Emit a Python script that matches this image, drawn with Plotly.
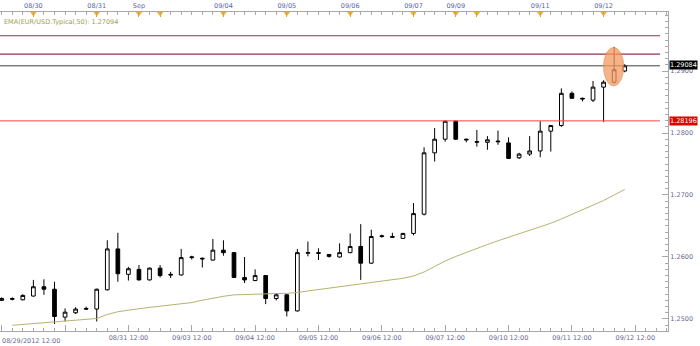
import plotly.graph_objects as go

# ---------------- data ----------------
idx = list(range(60))
opens = [1.2530, 1.2533, 1.2531, 1.2537, 1.2552, 1.2548, 1.2503, 1.2510, 1.2517, 1.2516,
         1.2547, 1.2613, 1.2572, 1.2580, 1.2563, 1.2582, 1.2572, 1.2571, 1.2599, 1.2598,
         1.2595, 1.2611, 1.2607, 1.2567, 1.2562, 1.2570, 1.2533, 1.2539, 1.2513, 1.2606,
         1.2607, 1.2604, 1.2600, 1.2607, 1.2617, 1.2590, 1.2633, 1.2633, 1.2630, 1.2638,
         1.2669, 1.2768, 1.2790, 1.2819, 1.2790, 1.2785, 1.2785, 1.2787, 1.2784, 1.2760,
         1.2766, 1.2771, 1.2803, 1.2812, 1.2864, 1.2856, 1.2853, 1.2874, 1.2882, 1.2900]
highs = [1.2535, 1.2535, 1.2540, 1.2563, 1.2564, 1.2560, 1.2517, 1.2519, 1.2520, 1.2549,
         1.2627, 1.2639, 1.2584, 1.2587, 1.2583, 1.2587, 1.2576, 1.2613, 1.2602, 1.2599,
         1.2629, 1.2627, 1.2608, 1.2600, 1.2580, 1.2571, 1.2542, 1.2540, 1.2613, 1.2625,
         1.2614, 1.2605, 1.2622, 1.2638, 1.2653, 1.2644, 1.2636, 1.2639, 1.2639, 1.2687,
         1.2777, 1.2808, 1.2820, 1.2820, 1.2791, 1.2805, 1.2795, 1.2804, 1.2793, 1.2768,
         1.2795, 1.2819, 1.2813, 1.2872, 1.2867, 1.2857, 1.2884, 1.2885, 1.2939, 1.2911]
lows = [1.2529, 1.2530, 1.2530, 1.2536, 1.2539, 1.2492, 1.2496, 1.2508, 1.2515, 1.2496,
        1.2546, 1.2560, 1.2562, 1.2562, 1.2562, 1.2567, 1.2566, 1.2570, 1.2596, 1.2583,
        1.2594, 1.2602, 1.2566, 1.2558, 1.2561, 1.2524, 1.2530, 1.2504, 1.2512, 1.2601,
        1.2595, 1.2599, 1.2599, 1.2606, 1.2563, 1.2589, 1.2631, 1.2631, 1.2629, 1.2635,
        1.2667, 1.2754, 1.2786, 1.2789, 1.2785, 1.2778, 1.2773, 1.2781, 1.2758, 1.2758,
        1.2763, 1.2761, 1.2770, 1.2810, 1.2855, 1.2851, 1.2850, 1.2818, 1.2880, 1.2898]
closes = [1.2533, 1.2532, 1.2538, 1.2552, 1.2548, 1.2504, 1.2511, 1.2516, 1.2516, 1.2548,
          1.2613, 1.2573, 1.2581, 1.2563, 1.2582, 1.2570, 1.2571, 1.2599, 1.2600, 1.2597,
          1.2611, 1.2607, 1.2567, 1.2563, 1.2570, 1.2533, 1.2539, 1.2513, 1.2607, 1.2607,
          1.2606, 1.2601, 1.2607, 1.2617, 1.2590, 1.2633, 1.2634, 1.2632, 1.2638, 1.2670,
          1.2768, 1.2790, 1.2819, 1.2790, 1.2789, 1.2786, 1.2789, 1.2786, 1.2759, 1.2766,
          1.2771, 1.2803, 1.2812, 1.2864, 1.2856, 1.2855, 1.2874, 1.2882, 1.2902, 1.29084]

ema_idx = list(range(1, 60))
ema = [1.24898, 1.24911, 1.24923, 1.24935, 1.24947, 1.24958, 1.24971, 1.24984, 1.25008,
       1.25073, 1.25116, 1.25142, 1.25168, 1.25187, 1.25206, 1.25224, 1.25242, 1.25265,
       1.25303, 1.25337, 1.25366, 1.25389, 1.25397, 1.25403, 1.25406, 1.25410, 1.25413,
       1.25426, 1.25452, 1.25477, 1.25502, 1.25524, 1.25544, 1.25565, 1.25589, 1.25613,
       1.25635, 1.25656, 1.25694, 1.25758, 1.25847, 1.25935, 1.26008, 1.26076, 1.26140,
       1.26202, 1.26261, 1.26318, 1.26374, 1.26427, 1.26484, 1.26544, 1.26613, 1.26685,
       1.26758, 1.26831, 1.26911, 1.27000, 1.27089]
ema_label = "EMA(EUR/USD.Typical,50): 1.27094"

resistance_levels = [1.29569, 1.29274]
last_price = 1.29084
support_level = 1.28196
highlight_idx = 58

bottom_tickvals = [0, 6, 12, 18, 24, 30, 36, 42, 48, 54, 60]
bottom_ticktext = ["", "", "08/31 12:00", "09/03 12:00", "09/04 12:00", "09/05 12:00",
                   "09/06 12:00", "09/07 12:00", "09/10 12:00", "09/11 12:00", "09/12 12:00"]
first_label = "08/29/2012 12:00"
top_tickvals = [3, 9, 13, 15, 21, 27, 33, 39, 43, 45, 51, 57]
top_ticktext = ["08/30", "08/31", "Sep", "", "09/04", "09/05", "09/06", "09/07", "09/09", "", "09/11", "09/12"]

# ---------------- figure ----------------
XR = [-0.16, 63.1]
YR = [1.24806, 1.29952]
FONT = "DejaVu Sans"
AX = "#a8a8a8"
LBL = "#6a6a90"

fig = go.Figure()
fig.add_trace(go.Scatter(x=ema_idx, y=ema, mode="lines",
                         line=dict(color="#b4b46e", width=1), hoverinfo="skip",
                         showlegend=False))
fig.add_trace(go.Candlestick(
    x=idx, open=opens, high=highs, low=lows, close=closes,
    increasing=dict(line=dict(color="#000000", width=1), fillcolor="#ffffff"),
    decreasing=dict(line=dict(color="#000000", width=1), fillcolor="#000000"),
    whiskerwidth=0, showlegend=False))
fig.add_trace(go.Scatter(x=top_tickvals, y=[YR[1] - 0.00022] * len(top_tickvals),
                         xaxis="x2", mode="markers", cliponaxis=False,
                         marker=dict(symbol="triangle-down", size=6, color="#f0b030"),
                         showlegend=False, hoverinfo="skip"))

for lv in resistance_levels:
    fig.add_shape(type="line", xref="paper", x0=0, x1=0.988, yref="y", y0=lv, y1=lv,
                  line=dict(color="#9c2c4c", width=1.2))
fig.add_shape(type="line", xref="paper", x0=0, x1=0.988, yref="y", y0=last_price, y1=last_price,
              line=dict(color="#404040", width=1))
fig.add_shape(type="line", xref="paper", x0=0, x1=0.988, yref="y", y0=support_level, y1=support_level,
              line=dict(color="#f04848", width=1))

fig.add_shape(type="circle", xref="x", yref="y", layer="above",
              x0=highlight_idx - 1.0, x1=highlight_idx + 0.9,
              y0=lows[highlight_idx] - 0.0004, y1=highs[highlight_idx] - 0.0001,
              fillcolor="#f39a60", opacity=0.75, line=dict(color="#e8884a", width=1))

fig.add_annotation(xref="paper", yref="y", x=1, y=last_price, xanchor="left", yanchor="middle",
                   xshift=1, yshift=1, text="1.29084", showarrow=False, bgcolor="#000000",
                   font=dict(family=FONT, size=6.5, color="#ffffff"), borderpad=0)
fig.add_annotation(xref="paper", yref="y", x=1, y=support_level, xanchor="left", yanchor="middle",
                   xshift=1, text="1.28196", showarrow=False, bgcolor="#e00000",
                   font=dict(family=FONT, size=6.5, color="#ffffff"), borderpad=0)
fig.add_annotation(xref="paper", yref="paper", x=0.003, y=0.97, xanchor="left", yanchor="middle",
                   text=ema_label, showarrow=False,
                   font=dict(family=FONT, size=6.5, color="#a0a050"))
fig.add_annotation(xref="paper", yref="paper", x=0, y=0, xanchor="left", yanchor="top",
                   yshift=-4, text=first_label, showarrow=False,
                   font=dict(family=FONT, size=6.5, color=LBL))

fig.update_layout(
    width=700, height=346,
    margin=dict(l=0, r=32, t=12, b=15),
    paper_bgcolor="#ffffff", plot_bgcolor="#ffffff",
    showlegend=False,
    boxgap=0.5,
    xaxis=dict(range=XR, rangeslider=dict(visible=False), showgrid=False, zeroline=False,
               showline=True, linecolor=AX, linewidth=1,
               tickmode="array", tickvals=bottom_tickvals, ticktext=bottom_ticktext,
               ticks="inside", ticklen=6, tickcolor=AX,
               minor=dict(tickmode="linear", tick0=0, dtick=1, ticks="inside", ticklen=3, tickcolor=AX),
               tickfont=dict(family=FONT, size=6.5, color=LBL)),
    xaxis2=dict(range=XR, overlaying="x", side="top", showgrid=False, zeroline=False,
                showline=True, linecolor=AX, linewidth=1,
                tickmode="array", tickvals=top_tickvals, ticktext=top_ticktext,
                ticks="inside", ticklen=5, tickcolor="#e0a030",
                minor=dict(tickmode="linear", tick0=0, dtick=1, ticks="inside", ticklen=3, tickcolor=AX),
                tickfont=dict(family=FONT, size=6.5, color="#5566aa")),
    yaxis=dict(range=YR, side="right", showgrid=False, zeroline=False,
               showline=True, linecolor=AX, linewidth=1,
               tick0=1.25, dtick=0.01, tickformat=".4f",
               ticks="inside", ticklen=6, tickcolor=AX,
               minor=dict(tick0=1.25, dtick=0.001, ticks="inside", ticklen=3, tickcolor=AX),
               tickfont=dict(family=FONT, size=6.5, color=LBL)),
)

fig.write_html("out.html")
